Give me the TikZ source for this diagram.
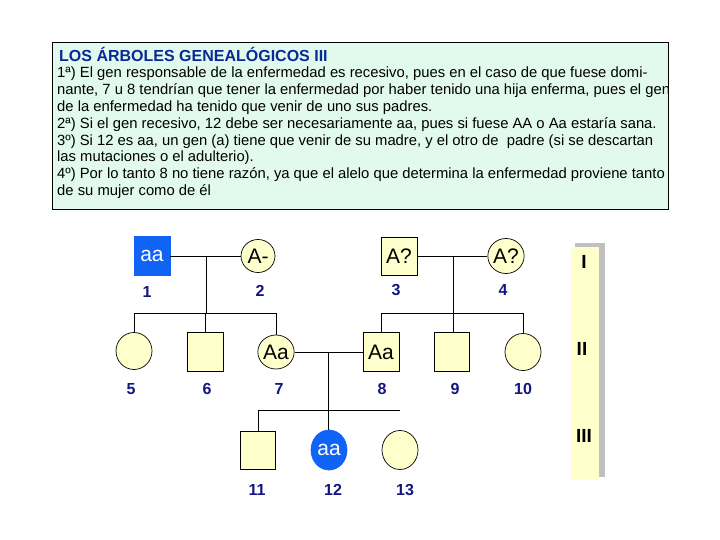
\documentclass[tikz,border=0pt]{standalone}
\usepackage{fontspec}
\setmainfont{Liberation Sans}
\usetikzlibrary{shapes.geometric}
\definecolor{boxfill}{RGB}{226,250,238}
\definecolor{titleblue}{RGB}{10,40,150}
\definecolor{fillblue}{RGB}{15,100,245}
\definecolor{cream}{RGB}{255,255,204}
\definecolor{navy}{RGB}{20,20,130}
\definecolor{shadowgray}{RGB}{192,192,192}
\tikzset{
  person/.style={draw=black, line width=0.7pt, fill=cream, inner sep=0pt,
    font=\fontsize{21}{21}\selectfont},
  sq/.style={person, rectangle, minimum width=36pt, minimum height=39pt},
  circ/.style={person, ellipse, minimum width=36pt, minimum height=37pt},
  affected/.style={fill=fillblue, draw=fillblue, text=white},
  lbl/.style={text=navy, font=\fontsize{16}{16}\selectfont\bfseries, inner sep=0pt},
  gen/.style={text=black, font=\fontsize{19}{19}\selectfont\bfseries, inner sep=0pt},
  bodyline/.style={anchor=base west, inner sep=0pt, font=\fontsize{14.8}{16}\selectfont},
  link/.style={line width=0.9pt, black}
}
\begin{document}
\begin{tikzpicture}[x=1pt,y=-1pt]
\useasboundingbox (0,0) rectangle (720,540);
% text box
\draw[fill=boxfill, line width=0.8pt] (52,42) rectangle (668,209);
\node[anchor=base west, inner sep=0pt, text=titleblue, font=\fontsize{16}{16}\selectfont\bfseries] (title) at (59,62) {LOS ÁRBOLES GENEALÓGICOS III};
\node[bodyline] (t1) at (57,78) {1ª) El gen responsable de la enfermedad es recesivo, pues en el caso de que fuese domi-};
\node[bodyline] (t2) at (57,94.8) {nante, 7 u 8 tendrían que tener la enfermedad por haber tenido una hija enferma, pues el gen};
\node[bodyline] (t3) at (57,111.6) {de la enfermedad ha tenido que venir de uno sus padres.};
\node[bodyline] (t4) at (57,128.4) {2ª) Si el gen recesivo, 12 debe ser necesariamente aa, pues si fuese AA o Aa estaría sana.};
\node[bodyline] (t5) at (57,145.2) {3º) Si 12 es aa, un gen (a) tiene que venir de su madre, y el otro de~ padre (si se descartan};
\node[bodyline] (t6) at (57,162) {las mutaciones o el adulterio).};
\node[bodyline] (t7) at (57,178.8) {4º) Por lo tanto 8 no tiene razón, ya que el alelo que determina la enfermedad proviene tanto};
\node[bodyline] (t8) at (57,195.6) {de su mujer como de él};

% generation bar
\fill[shadowgray] (575,243) rectangle (605,477);
\fill[cream] (571,247) rectangle (599,480);
\node[gen] (gI) at (584,262) {I};
\node[gen] (gII) at (582,349) {II};
\node[gen] (gIII) at (584,436) {III};

% generation I
\node[sq, affected] (p1) at (152,256) {aa};
\node[circ, minimum width=34pt, minimum height=33pt] (p2) at (258,256) {A-};
\node[sq, minimum height=38pt] (p3) at (399,256) {A?};
\node[circ, minimum width=36pt, minimum height=35pt] (p4) at (506,256) {A?};
% generation II
\node[circ] (p5) at (134,351) {};
\node[sq] (p6) at (205,352) {};
\node[circ, minimum width=34pt, minimum height=34pt] (p7) at (276,352) {Aa};
\node[sq] (p8) at (381,352) {Aa};
\node[sq, minimum width=35pt] (p9) at (452,352) {};
\node[circ] (p10) at (523,352) {};
% generation III
\node[sq, minimum width=35pt, minimum height=38pt] (p11) at (258,450) {};
\node[circ, affected, minimum height=40pt] (p12) at (329,450) {aa};
\node[circ, minimum height=39pt] (p13) at (400,450) {};

% labels
\node[lbl] (l1) at (147,292) {1};
\node[lbl] (l2) at (260,291) {2};
\node[lbl] (l3) at (396,290) {3};
\node[lbl] (l4) at (503,290) {4};
\node[lbl] (l5) at (131,389) {5};
\node[lbl] (l6) at (207,389) {6};
\node[lbl] (l7) at (279,389) {7};
\node[lbl] (l8) at (382,389) {8};
\node[lbl] (l9) at (455,389) {9};
\node[lbl] (l10) at (523,389) {10};
\node[lbl] (l11) at (257,490) {11};
\node[lbl] (l12) at (333,490) {12};
\node[lbl] (l13) at (405,490) {13};

% connectors
\coordinate (m12) at (206,256);
\coordinate (s12) at (206,313);
\coordinate (m34) at (453,256);
\coordinate (s34) at (453,313);
\coordinate (m78) at (328,352);
\coordinate (s78) at (328,410);
\coordinate (e78) at (400,410);

\draw[link] (p1) -- (p2);
\draw[link] (m12) -- (s12);
\draw[link] (p5.north |- s12) -- (p7.north |- s12);
\draw[link] (p5.north |- s12) -- (p5.north);
\draw[link] (p6.north |- s12) -- (p6.north);
\draw[link] (p7.north |- s12) -- (p7.north);

\draw[link] (p3) -- (p4);
\draw[link] (m34) -- (s34);
\draw[link] (p8.north |- s34) -- (p10.north |- s34);
\draw[link] (p8.north |- s34) -- (p8.north);
\draw[link] (s34) -- (s34 |- p9.north);
\draw[link] (p10.north |- s34) -- (p10.north);

\draw[link] (p7) -- (p8);
\draw[link] (m78) -- (s78);
\draw[link] (p11.north |- s78) -- (e78);
\draw[link] (p11.north |- s78) -- (p11.north);
\draw[link] (s78) -- (s78 |- p12.north);
\end{tikzpicture}
\end{document}
